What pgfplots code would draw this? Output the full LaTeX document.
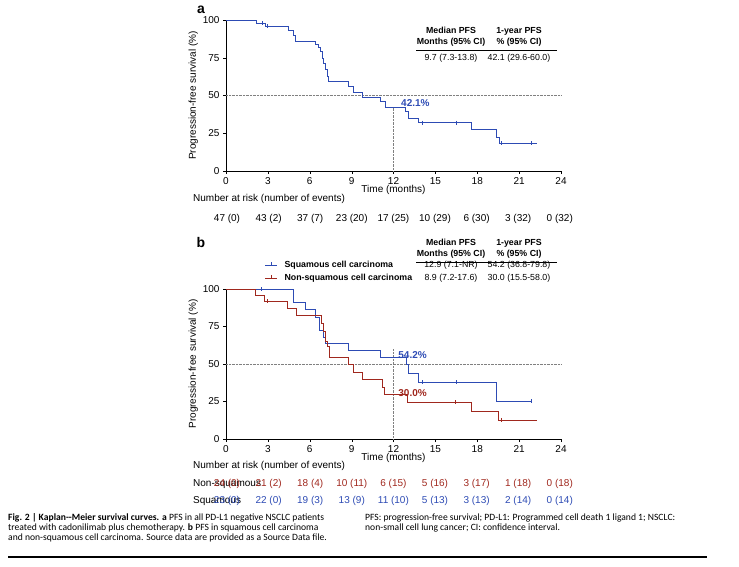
\documentclass[border=0pt]{standalone}
\usepackage{pgfplots}
\pgfplotsset{compat=1.18}
\usepackage{fontspec}
\setmainfont{Liberation Sans}
\newfontfamily\capfont{Carlito}
\definecolor{kmblue}{RGB}{45,75,180}
\definecolor{kmred}{RGB}{160,40,30}
\begin{document}
\begin{tikzpicture}[x=1pt,y=-1pt,font=\fontsize{10}{12}\selectfont]
\path (0,0) rectangle (739,566);
\pgfplotsset{km/.style={scale only axis,width=335pt,height=151pt,anchor=south west,
 xmin=0,xmax=24,ymin=0,ymax=100,axis lines*=left,xtick={0,3,...,24},ytick={0,25,...,100},
 tick align=outside,major tick length=3pt,tick style={black},axis line style={black,line width=0.7pt},
 tick label style={font=\fontsize{10}{12}\selectfont},
 /pgf/number format/assume math mode=true,clip=false,
 ylabel={Progression-free survival (\%)},ylabel style={yshift=-2pt},
 xlabel={Time (months)},xlabel style={yshift=6pt}}}
% panel a
\begin{axis}[km,at={(226pt,-171pt)}]
\draw[gray,densely dotted] (axis cs:0,50) -- (axis cs:24,50);
\draw[gray,densely dotted] (axis cs:12,0) -- (axis cs:12,42.1);
\addplot[const plot,kmblue,line width=0.9pt] coordinates {(0,100)(2.2,97.9)(2.8,95.7)(4.5,93.4)(4.8,90.1)(5.0,86)(6.4,84)(6.6,82)(6.75,79)(6.9,74.7)(7.0,71)(7.1,67)(7.25,62.6)(7.35,59.3)(8.8,56)(9.1,52)(9.75,49)(11.1,46)(11.4,42.1)(12.85,39.6)(13.05,35)(13.8,32)(17.6,27.5)(19.4,22)(19.6,18.3)(22.3,18.3)};
\addplot[only marks,mark=|,mark size=2pt,kmblue,line width=0.8pt] coordinates {(2.6,97.9)(3.0,95.7)(14.1,32)(16.5,32)(19.7,18.3)(21.9,18.3)};
\node[kmblue,font=\bfseries\fontsize{10}{12}\selectfont,anchor=south west] at (axis cs:12.3,40) {42.1\%};
\end{axis}
% panel b
\begin{axis}[km,at={(226pt,-439pt)},height=150pt]
\draw[gray,densely dotted] (axis cs:0,50) -- (axis cs:24,50);
\draw[gray,densely dotted] (axis cs:12,0) -- (axis cs:12,60);
\addplot[const plot,kmblue,line width=0.9pt] coordinates {(0,100)(4.85,91.1)(5.7,86.2)(6.4,81.3)(6.7,72.4)(7.0,68)(7.1,63.6)(8.8,59)(11.05,54.2)(12.9,49.6)(13.1,43.6)(13.8,38)(19.35,25.1)(21.9,25.1)};
\addplot[const plot,kmred,line width=0.9pt] coordinates {(0,100)(2.13,96)(2.75,91.8)(4.43,86.9)(5.03,82.2)(6.87,77.3)(6.97,71.8)(7.1,65)(7.3,61.8)(7.4,54.7)(8.8,49.6)(9.1,44.4)(9.75,39.6)(11.2,34.7)(11.35,30)(13.0,24.4)(17.6,18.4)(19.5,12.4)(22.3,12.4)};
\addplot[only marks,mark=|,mark size=2pt,kmblue,line width=0.8pt] coordinates {(2.56,100)(14.05,38)(16.5,38)(21.9,25.1)};
\addplot[only marks,mark=|,mark size=2pt,kmred,line width=0.8pt] coordinates {(3.0,91.8)(16.4,24.4)(19.75,12.4)};
\node[kmblue,font=\bfseries\fontsize{10}{12}\selectfont,anchor=south west] at (axis cs:12.1,51) {54.2\%};
\node[kmred,font=\bfseries\fontsize{10}{12}\selectfont,anchor=south west] at (axis cs:12.1,26) {30.0\%};
\end{axis}
% panel letters
\node[font=\bfseries\fontsize{14}{16}\selectfont] at (201,10) {a};
\node[font=\bfseries\fontsize{14}{16}\selectfont] at (201,242) {b};
% tables
\begin{scope}[font=\fontsize{8.8}{10.5}\selectfont]
\node[font=\bfseries\fontsize{8.8}{11}\selectfont,align=center] at (451,37) {Median PFS\\Months (95\% CI)};
\node[font=\bfseries\fontsize{8.8}{11}\selectfont,align=center] at (519,37) {1-year PFS\\\% (95\% CI)};
\draw[line width=0.7pt] (416,50) -- (557,50);
\node at (451,58) {9.7 (7.3-13.8)};
\node at (519,58) {42.1 (29.6-60.0)};
\node[font=\bfseries\fontsize{8.8}{11}\selectfont,align=center] at (451,249) {Median PFS\\Months (95\% CI)};
\node[font=\bfseries\fontsize{8.8}{11}\selectfont,align=center] at (519,249) {1-year PFS\\\% (95\% CI)};
\draw[line width=0.7pt] (416,262) -- (557,262);
\node at (451,265.5) {12.9 (7.1-NR)};
\node at (519,265.5) {54.2 (36.8-79.8)};
\node at (451,278) {8.9 (7.2-17.6)};
\node at (519,278) {30.0 (15.5-58.0)};
\draw[kmblue,line width=0.9pt] (265,265) -- (277,265) (271,265) -- (271,262);
\draw[kmred,line width=0.9pt] (265,278) -- (277,278) (271,278) -- (271,275);
\node[anchor=west,font=\bfseries\fontsize{8.8}{10.5}\selectfont] at (281,265) {Squamous cell carcinoma};
\node[anchor=west,font=\bfseries\fontsize{8.8}{10.5}\selectfont] at (281,278) {Non-squamous cell carcinoma};
\end{scope}
% at risk a
\node[anchor=west,inner xsep=0pt] at (193,199) {Number at risk (number of events)};
\foreach \v [count=\i from 0] in {47 (0),43 (2),37 (7),23 (20),17 (25),10 (29),6 (30),3 (32),0 (32)}
  \node at ({227+\i*41.6},219) {\v};
% at risk b
\node[anchor=west,inner xsep=0pt] at (193,466) {Number at risk (number of events)};
\node[anchor=west,inner xsep=0pt] at (193,484) {Non-squamous};
\node[anchor=west,inner xsep=0pt] at (193,501) {Squamous};
\foreach \v [count=\i from 0] in {24 (0),21 (2),18 (4),10 (11),6 (15),5 (16),3 (17),1 (18),0 (18)}
  \node[kmred] at ({227+\i*41.6},484) {\v};
\foreach \v [count=\i from 0] in {23 (0),22 (0),19 (3),13 (9),11 (10),5 (13),3 (13),2 (14),0 (14)}
  \node[kmblue] at ({227+\i*41.6},501) {\v};
% caption
\begin{scope}[font=\capfont\fontsize{9.6}{11}\selectfont,every node/.style={anchor=west,inner sep=0pt}]
\node at (8,518) {\textbf{Fig. 2 | Kaplan--Meier survival curves. a} PFS in all PD-L1 negative NSCLC patients};
\node at (8,528) {treated with cadonilimab plus chemotherapy. \textbf{b} PFS in squamous cell carcinoma};
\node at (8,538) {and non-squamous cell carcinoma. Source data are provided as a Source Data file.};
\node at (365,518) {PFS: progression-free survival; PD-L1: Programmed cell death 1 ligand 1; NSCLC:};
\node at (365,528) {non-small cell lung cancer; CI: confidence interval.};
\end{scope}
\draw[line width=1.8pt] (8,557) -- (707,557);
\end{tikzpicture}
\end{document}
